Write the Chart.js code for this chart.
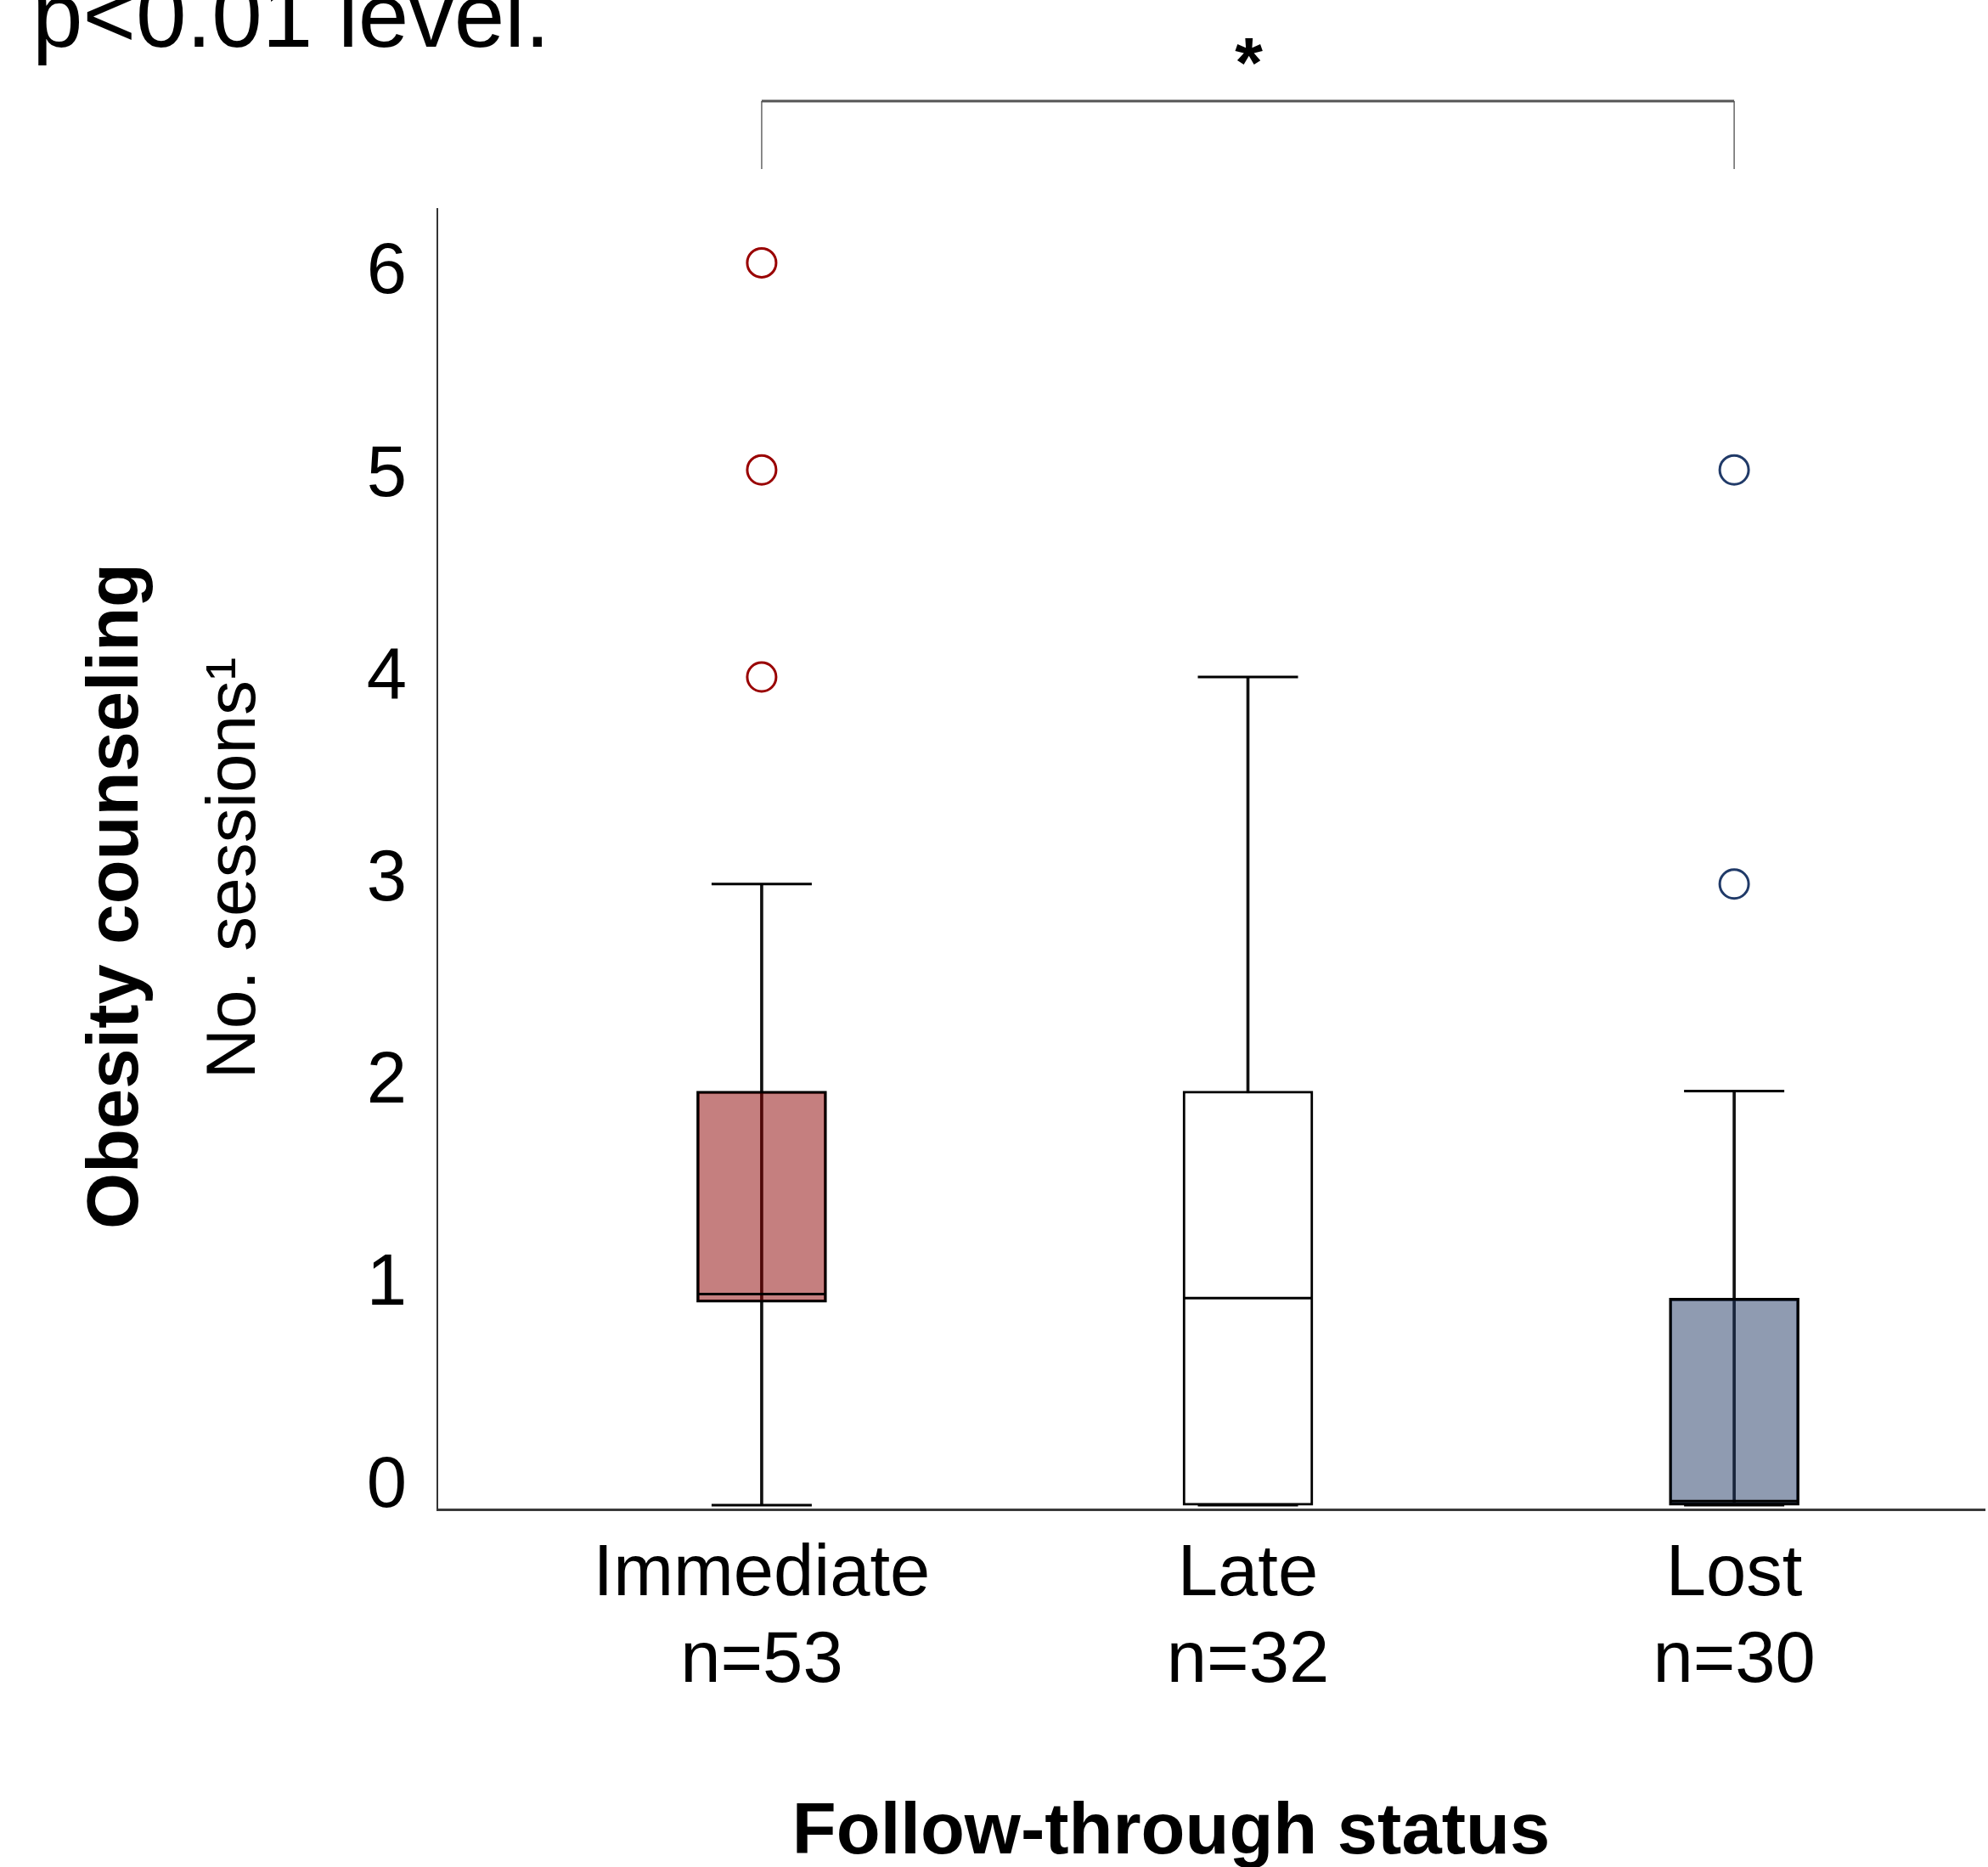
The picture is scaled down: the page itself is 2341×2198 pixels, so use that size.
<!DOCTYPE html>
<html>
<head>
<meta charset="utf-8">
<script src="https://cdn.jsdelivr.net/npm/chart.js@4.4.1/dist/chart.umd.min.js"></script>
<style>
    html, body { margin: 0; padding: 0; background: #fff; }
    #wrap { width: 2341px; height: 2198px; }
</style>
</head>
<body>
<div id="wrap"><canvas id="boxChart" width="2341" height="2198"></canvas></div>
<script>
const categories = ['Immediate', 'Late', 'Lost'];
const counts = [53, 32, 30];
const q1 = [0.98, 0, 0];
const median = [1.02, 1, 0.02];
const q3 = [2, 2, 1];
const whiskerLow = [0, 0, 0];
const whiskerHigh = [3, 4, 2];
const outliers = [[4, 5, 6], [], [3, 5]];
const yTicks = [0, 1, 2, 3, 4, 5, 6];

const FONT = '"Liberation Sans", Arial, Helvetica, sans-serif';
const boxFill = ['rgba(139, 0, 0, 0.5)', '#ffffff', 'rgba(31, 56, 100, 0.5)'];
const dotColor = ['#990000', '#990000', '#203a68'];

Chart.defaults.font.family = FONT;
Chart.defaults.color = '#000';

const pos = i => i + 1;

const stemData = categories.map((c, i) => ({ x: pos(i), y: [whiskerLow[i], whiskerHigh[i]] }));
const boxData = categories.map((c, i) => ({ x: pos(i), y: [q1[i], q3[i]] }));
const medianData = categories.map((c, i) => ({ x: pos(i), y: median[i] }));
const capData = [];
categories.forEach((c, i) => {
    capData.push({ x: pos(i), y: whiskerLow[i] });
    capData.push({ x: pos(i), y: whiskerHigh[i] });
});
const outlierData = [];
const outlierColors = [];
outliers.forEach((list, i) => {
    list.forEach(v => {
        outlierData.push({ x: pos(i), y: v });
        outlierColors.push(dotColor[i]);
    });
});

const annotate = {
    id: 'annotate',
    afterDraw(chart) {
        const ctx = chart.ctx;
        const xs = chart.scales.x;
        const xa = xs.getPixelForValue(1);
        const xb = xs.getPixelForValue(3);
        ctx.save();
        ctx.fillStyle = '#000';
        ctx.textBaseline = 'alphabetic';

        ctx.font = '107px ' + FONT;
        ctx.textAlign = 'left';
        ctx.fillText('p<0.01 level.', 38, 55);

        // significance bracket
        ctx.strokeStyle = '#666';
        ctx.lineWidth = 1.5;
        ctx.beginPath();
        ctx.moveTo(xa, 199); ctx.lineTo(xa, 119);
        ctx.moveTo(xb, 199); ctx.lineTo(xb, 119);
        ctx.stroke();
        ctx.strokeStyle = '#555';
        ctx.lineWidth = 3;
        ctx.beginPath();
        ctx.moveTo(xa, 119); ctx.lineTo(xb, 119);
        ctx.stroke();

        ctx.font = 'bold 84px ' + FONT;
        ctx.textAlign = 'center';
        ctx.fillText('*', (xa + xb) / 2 + 1, 103);

        // x title
        ctx.font = 'bold 85px ' + FONT;
        ctx.fillText('Follow-through status', 1379, 2182);

        // y titles
        ctx.save();
        ctx.translate(162, 1055);
        ctx.rotate(-Math.PI / 2);
        ctx.font = 'bold 85px ' + FONT;
        ctx.fillText('Obesity counseling', 0, 0);
        ctx.restore();

        ctx.save();
        ctx.translate(300, 1022);
        ctx.rotate(-Math.PI / 2);
        ctx.font = '82px ' + FONT;
        ctx.fillText('No. sessions\u00B9', 0, 0);
        ctx.restore();

        ctx.restore();
    }
};

new Chart(document.getElementById('boxChart'), {
    type: 'bar',
    data: {
        datasets: [
            {
                label: 'stem',
                data: stemData,
                backgroundColor: '#111',
                borderWidth: 0,
                barThickness: 3,
                grouped: false,
                order: 5
            },
            {
                label: 'box',
                data: boxData,
                backgroundColor: boxFill,
                borderColor: '#000',
                borderWidth: 3,
                borderSkipped: false,
                barThickness: 153,
                grouped: false,
                order: 4
            },
            {
                type: 'scatter',
                label: 'median',
                data: medianData,
                pointStyle: 'line',
                pointRadius: 75,
                pointBorderWidth: 3,
                pointBorderColor: '#000',
                borderColor: '#000',
                order: 3
            },
            {
                type: 'scatter',
                label: 'caps',
                data: capData,
                pointStyle: 'line',
                pointRadius: 59,
                pointBorderWidth: 3,
                pointBorderColor: '#000',
                borderColor: '#000',
                order: 2
            },
            {
                type: 'scatter',
                label: 'outliers',
                data: outlierData,
                pointStyle: 'circle',
                pointRadius: 17,
                pointBorderWidth: 3,
                pointBorderColor: outlierColors,
                pointBackgroundColor: '#ffffff',
                order: 1
            }
        ]
    },
    options: {
        responsive: false,
        animation: false,
        devicePixelRatio: 1,
        layout: {
            autoPadding: false,
            padding: { top: 246, right: 4, bottom: 0, left: 0 }
        },
        plugins: {
            legend: { display: false },
            tooltip: { enabled: false }
        },
        scales: {
            x: {
                type: 'linear',
                offset: false,
                min: 0.333,
                max: 3.515,
                grid: { display: false, drawTicks: false },
                border: { display: true, color: '#3a3a3a', width: 3 },
                afterBuildTicks: scale => {
                    scale.ticks = categories.map((c, i) => ({ value: pos(i) }));
                },
                afterFit: scale => { scale.height = 421; },
                ticks: {
                    padding: 27,
                    maxRotation: 0,
                    autoSkip: false,
                    font: { size: 85, lineHeight: 1.2 },
                    color: '#000',
                    callback: value => [categories[value - 1], 'n=' + counts[value - 1]]
                }
            },
            y: {
                display: false,
                min: -0.02,
                max: 6.26,
                beginAtZero: false
            },
            yl: {
                position: 'left',
                min: -0.1092,
                max: 6.319,
                beginAtZero: false,
                grid: { display: false, drawTicks: false },
                border: { display: true, color: '#333', width: 2 },
                afterBuildTicks: scale => {
                    scale.ticks = yTicks.map(v => ({ value: v }));
                },
                afterFit: scale => { scale.width = 515; },
                ticks: {
                    padding: 36,
                    font: { size: 85 },
                    color: '#000'
                }
            }
        }
    },
    plugins: [annotate]
});
</script>
</body>
</html>
